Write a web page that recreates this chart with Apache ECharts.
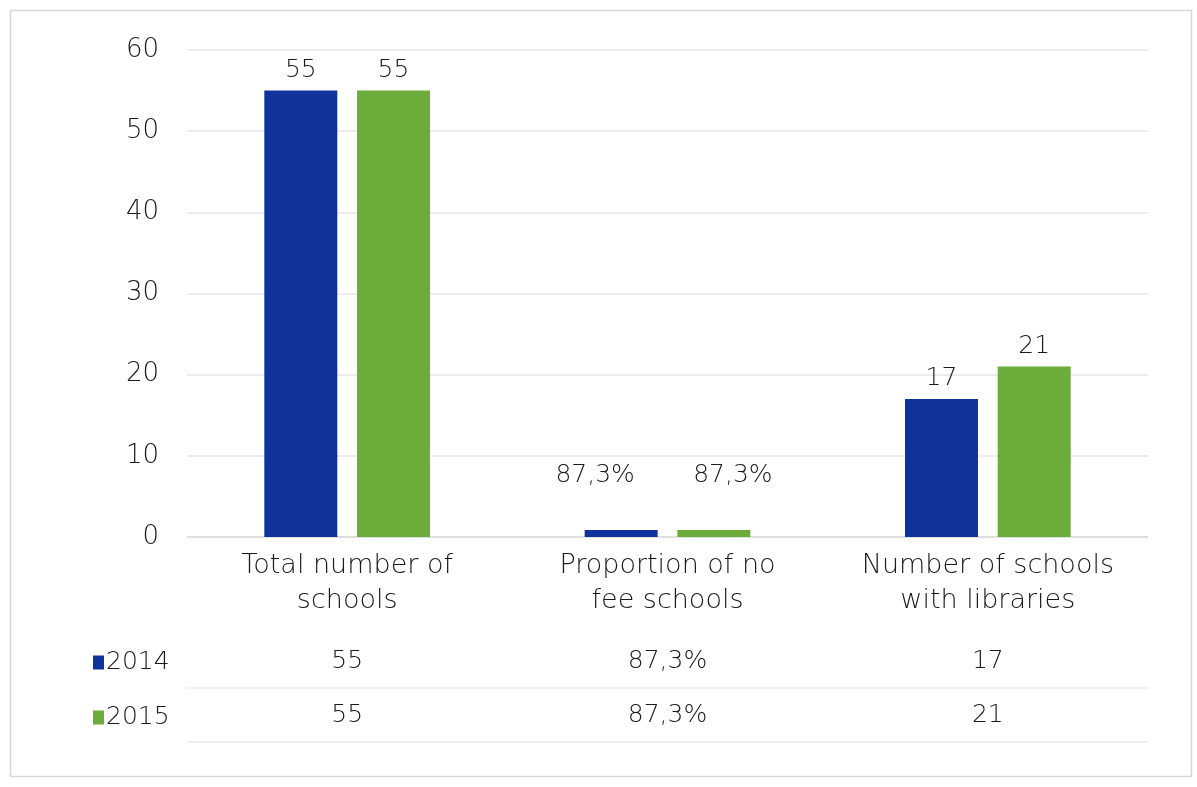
<!DOCTYPE html>
<html>
<head>
<meta charset="utf-8">
<script src="https://cdn.jsdelivr.net/npm/echarts@6/dist/echarts.min.js"></script>
<style>
html,body{margin:0;padding:0;background:#fff;}
#c{width:1197px;height:787px;}
</style>
</head>
<body>
<div id="c"></div>
<script>
const categories = ['Total number of\nschools', 'Proportion of no\nfee schools', 'Number of schools\nwith libraries'];
const seriesNames = ['2014', '2015'];
const values2014 = [55, 0.873, 17];
const values2015 = [55, 0.873, 21];
const labels2014 = ['55', '87,3%', '17'];
const labels2015 = ['55', '87,3%', '21'];
const yTicks = [0, 10, 20, 30, 40, 50, 60];

const FONT = '"DejaVu Sans", sans-serif';
const FW = 200;
const TXT = '#1a1a1a';
const colors = ['#0f329b', '#6bac3b'];

function mkData(vals, labs, dx) {
  return vals.map((v, i) => {
    const d = { value: v, label: { formatter: labs[i] } };
    if (v < 2) d.label.offset = [dx, -34];
    return d;
  });
}

const chart = echarts.init(document.getElementById('c'), null, { renderer: 'canvas' });
const lab = { fontFamily: FONT, fontWeight: FW, color: TXT };
chart.setOption({
  backgroundColor: '#fff',
  animation: false,
  color: colors,
  textStyle: { fontFamily: FONT },
  graphic: [{
    type: 'rect', left: 8, top: 8, shape: { width: 1181, height: 766 },
    style: { fill: 'none', stroke: '#d6d6d6', lineWidth: 1.5 }
  }],
  legend: {
    orient: 'vertical', left: 88, top: 645, itemGap: 30,
    itemWidth: 11, itemHeight: 14, icon: 'rect',
    data: seriesNames,
    textStyle: Object.assign({ fontSize: 25, padding: [0, 0, 0, -3] }, lab)
  },
  grid: { left: 187, right: 49, top: 50, bottom: 250 },
  xAxis: [{
    type: 'category', data: categories,
    axisLine: { show: true, lineStyle: { color: '#d9d9d9', width: 1.5 } },
    axisTick: { show: false },
    axisLabel: Object.assign({ interval: 0, hideOverlap: false, fontSize: 27, lineHeight: 35, margin: 11 }, lab)
  }, {
    type: 'category', data: labels2014, position: 'bottom', offset: 151,
    axisLine: { show: true, lineStyle: { color: '#ececec', width: 1.5 } },
    axisTick: { show: false },
    axisLabel: Object.assign({ interval: 0, inside: true, fontSize: 25, margin: 14 }, lab)
  }, {
    type: 'category', data: labels2015, position: 'bottom', offset: 205,
    axisLine: { show: true, lineStyle: { color: '#ececec', width: 1.5 } },
    axisTick: { show: false },
    axisLabel: Object.assign({ interval: 0, inside: true, fontSize: 25, margin: 14 }, lab)
  }],
  yAxis: {
    type: 'value', min: yTicks[0], max: yTicks[yTicks.length - 1], interval: 10,
    axisLine: { show: false }, axisTick: { show: false },
    axisLabel: Object.assign({ fontSize: 26, margin: 28 }, lab),
    splitLine: { lineStyle: { color: '#e6e6e6', width: 1.5 } }
  },
  series: [{
    name: seriesNames[0], type: 'bar', data: mkData(values2014, labels2014, -26),
    barWidth: 73, barGap: '27%',
    label: Object.assign({ show: true, position: 'top', fontSize: 25, distance: 8 }, lab)
  }, {
    name: seriesNames[1], type: 'bar', data: mkData(values2015, labels2015, 19),
    barWidth: 73, barGap: '27%',
    label: Object.assign({ show: true, position: 'top', fontSize: 25, distance: 8 }, lab)
  }]
});
</script>
</body>
</html>
